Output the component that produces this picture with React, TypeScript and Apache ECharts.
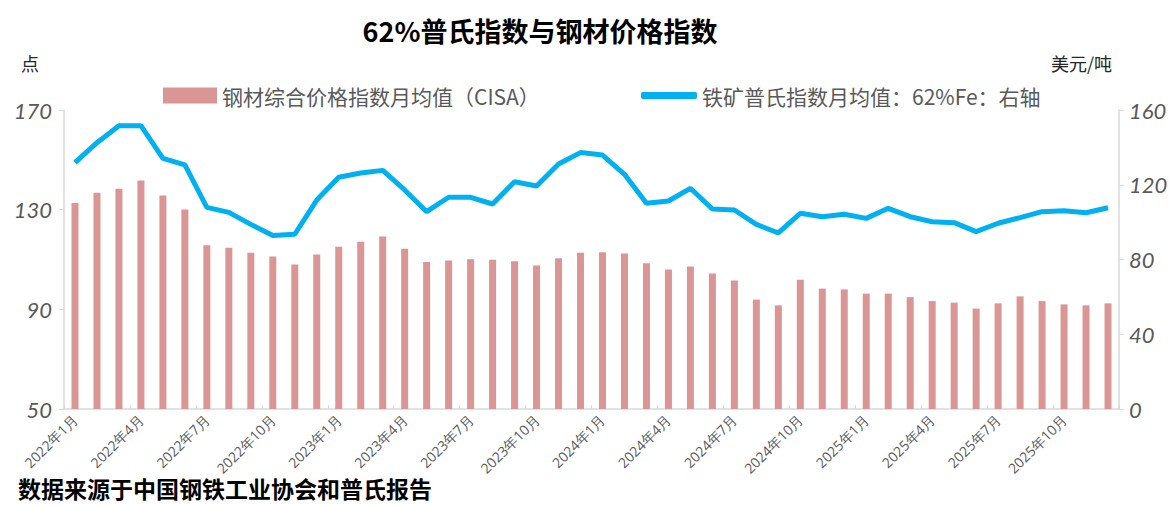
import React, { useEffect, useRef } from "react";
import * as echarts from "echarts";

const months: string[] = [];
for (const y of [2022, 2023, 2024, 2025]) {
  for (let m = 1; m <= 12; m++) months.push(`${y}年${m}月`);
}

const steelIndex = [
  132.7, 136.8, 138.4, 141.7, 135.7, 130.1, 115.7, 114.7, 112.7, 111.2, 108.0, 112.0,
  115.1, 117.1, 119.2, 114.3, 109.0, 109.6, 110.1, 109.9, 109.3, 107.6, 110.5, 112.7,
  112.9, 112.4, 108.5, 106.0, 107.2, 104.4, 101.6, 93.9, 91.6, 101.9, 98.3, 98.0,
  96.3, 96.3, 94.9, 93.3, 92.7, 90.3, 92.4, 95.2, 93.3, 92.0, 91.6, 92.4,
];

const platts62 = [
  131.8, 142.5, 151.6, 151.6, 134.1, 130.6, 107.9, 105.2, 98.8, 92.8, 93.5, 111.8,
  124.0, 126.3, 127.7, 117.2, 105.6, 113.3, 113.3, 109.7, 121.6, 119.3, 131.1, 137.2,
  135.9, 125.6, 110.1, 111.3, 118.1, 107.0, 106.5, 98.8, 94.2, 104.7, 102.9, 104.2,
  102.0, 107.4, 102.9, 100.2, 99.7, 94.9, 99.4, 102.4, 105.6, 106.1, 105.0, 107.7,
];

const leftTicks = { min: 50, max: 170, interval: 40 };
const rightTicks = { min: 0, max: 160, interval: 40 };

const barName = "钢材综合价格指数月均值（CISA）";
const lineName = "铁矿普氏指数月均值：62%Fe：右轴";

export default function App() {
  const ref = useRef<HTMLDivElement>(null);
  useEffect(() => {
    if (!ref.current) return;
    const chart = echarts.init(ref.current, undefined, { renderer: "svg" });
    const grey = "#595959";
    const axisFont = { fontFamily: "Lato", fontStyle: "italic" as const, fontSize: 22, color: grey };
    chart.setOption({
      animation: false,
      backgroundColor: "#ffffff",
      title: [
        {
          text: "62%普氏指数与钢材价格指数",
          left: 535,
          textAlign: "center",
          top: 12,
          textStyle: { fontFamily: "Noto Sans CJK SC", fontWeight: "bold", fontSize: 27, color: "#000" },
        },
        {
          text: "点",
          left: 16,
          top: 49,
          textStyle: { fontFamily: "Noto Sans CJK SC", fontWeight: "normal", fontSize: 18, color: "#262626" },
        },
        {
          text: "美元/吨",
          right: 59,
          top: 49,
          textStyle: { fontFamily: "Noto Sans CJK SC", fontWeight: "normal", fontSize: 18, color: "#262626" },
        },
        {
          text: "数据来源于中国钢铁工业协会和普氏报告",
          left: 18,
          top: 476,
          padding: 0,
          textStyle: { fontFamily: "Noto Sans CJK SC", fontWeight: "bold", fontSize: 23, lineHeight: 24, color: "#000" },
        },
      ],
      legend: [
        {
          data: [{ name: barName, icon: "rect" }],
          left: 158,
          top: 80,
          itemWidth: 54,
          itemHeight: 16,
          itemGap: 10,
          textStyle: { fontFamily: "Noto Sans CJK SC", fontSize: 21, color: grey },
        },
        {
          data: [{ name: lineName, icon: "roundRect" }],
          left: 636,
          top: 80,
          itemWidth: 56,
          itemHeight: 7,
          textStyle: { fontFamily: "Noto Sans CJK SC", fontSize: 21, color: grey },
        },
      ],
      grid: { left: 64, right: 57, top: 110, bottom: 96, containLabel: false },
      xAxis: {
        type: "category",
        data: months,
        boundaryGap: true,
        axisLine: { lineStyle: { color: "#d9d9d9", width: 1.5 } },
        axisTick: { show: true, interval: 2, inside: true, length: 4, lineStyle: { color: "#d9d9d9" } },
        axisLabel: {
          interval: 2,
          rotate: 45,
          fontFamily: "Open Sans",
          fontSize: 14,
          color: grey,
          margin: 8,
        },
      },
      yAxis: [
        {
          type: "value",
          ...leftTicks,
          axisLine: { show: true, lineStyle: { color: "#d9d9d9", width: 1.5 } },
          axisTick: { show: true, length: 5, lineStyle: { color: "#d9d9d9" } },
          splitLine: { show: false },
          axisLabel: { ...axisFont, margin: 12 },
        },
        {
          type: "value",
          ...rightTicks,
          axisLine: { show: true, lineStyle: { color: "#d9d9d9", width: 1.5 } },
          axisTick: { show: true, length: 5, lineStyle: { color: "#d9d9d9" } },
          splitLine: { show: false },
          axisLabel: { ...axisFont, margin: 10 },
        },
      ],
      series: [
        {
          name: barName,
          type: "bar",
          yAxisIndex: 0,
          data: steelIndex,
          barWidth: 7,
          itemStyle: { color: "#D99694" },
        },
        {
          name: lineName,
          type: "line",
          yAxisIndex: 1,
          data: platts62,
          symbol: "none",
          lineStyle: { color: "#00B0F0", width: 5 },
          itemStyle: { color: "#00B0F0" },
        },
      ],
    });
    return () => chart.dispose();
  }, []);
  return <div ref={ref} style={{ width: 1176, height: 505, position: "absolute", left: 0, top: 0 }} />;
}
